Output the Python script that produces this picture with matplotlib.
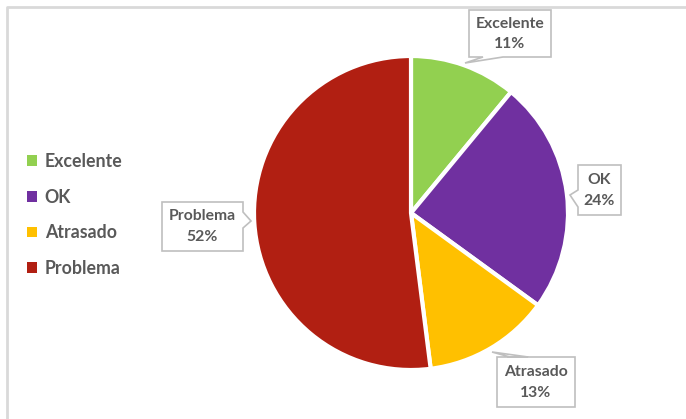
import matplotlib.pyplot as plt
from matplotlib.patches import Patch, Polygon

plt.rcParams['font.family'] = ['Lato', 'DejaVu Sans']

categories = ['Excelente', 'OK', 'Atrasado', 'Problema']
shares = [11, 24, 13, 52]
colors = ['#92D050', '#7030A0', '#FFC000', '#B11F12']

W, H = 686, 419
text_gray = '#595959'
box_gray = '#BFBFBF'

fig = plt.figure(figsize=(W / 100, H / 100), dpi=100)
ax = fig.add_axes([0, 0, 1, 1])
ax.set_xlim(0, W)
ax.set_ylim(0, H)
ax.set_aspect('equal')
ax.axis('off')

# chart area frame (only top and left edges are visible)
ax.plot([6.5, 6.5, W + 5], [-5, H - 6.5, H - 6.5], color='#D9D9D9', lw=2, solid_capstyle='butt')

wedges, _ = ax.pie(shares, colors=colors, startangle=90, counterclock=False,
                   center=(411, H - 213), radius=157,
                   wedgeprops=dict(edgecolor='white', linewidth=3))
ax.set_xlim(0, W)
ax.set_ylim(0, H)

side_of = {'Excelente': 'bottom', 'OK': 'left', 'Atrasado': 'top', 'Problema': 'right'}
boxes = {
    'Excelente': ((469, 10, 551, 57), ((503, 57), (465, 63), (483, 57))),
    'OK': ((578, 165, 621, 215), ((578, 207), (570, 195), (578, 190))),
    'Atrasado': ((497, 357, 575, 407), ((528, 357), (492, 352), (510, 357))),
    'Problema': ((162, 202, 243, 251), ((243, 212), (251, 221), (243, 228))),
}


def callout(name, value):
    # box and notch are pixel coords measured from the top-left corner
    (x0, y0, x1, y1), (a, tip, b) = boxes[name]
    edges = {'top': 0, 'right': 1, 'bottom': 2, 'left': 3}
    pts = []
    for i, c in enumerate([(x0, y0), (x1, y0), (x1, y1), (x0, y1)]):
        pts.append(c)
        if i == edges[side_of[name]]:
            pts.extend([a, tip, b])
    poly = Polygon([(x, H - y) for x, y in pts], closed=True, facecolor='white',
                   edgecolor=box_gray, lw=1.2, zorder=5)
    ax.add_patch(poly)
    cx = (x0 + x1) / 2
    ax.text(cx, H - (y0 + 0.29 * (y1 - y0)), name, ha='center', va='center',
            fontsize=11.3, fontweight='bold', color=text_gray, zorder=6)
    ax.text(cx, H - (y0 + 0.72 * (y1 - y0)), f'{value}%', ha='center', va='center',
            fontsize=11.3, fontweight='bold', color=text_gray, zorder=6)


for name, val in zip(categories, shares):
    callout(name, val)

handles = [Patch(facecolor=c, edgecolor='none') for c in colors]
ax.legend(handles, categories, loc='upper left', bbox_to_anchor=(27 / W, 1 - 153 / H),
          frameon=False, handlelength=0.55, handleheight=0.55, handletextpad=0.45,
          labelspacing=1.05, borderaxespad=0, borderpad=0,
          prop=dict(family=['Lato', 'DejaVu Sans'], weight='bold', size=12.8),
          labelcolor=text_gray)

plt.savefig('out.png', dpi=100)
